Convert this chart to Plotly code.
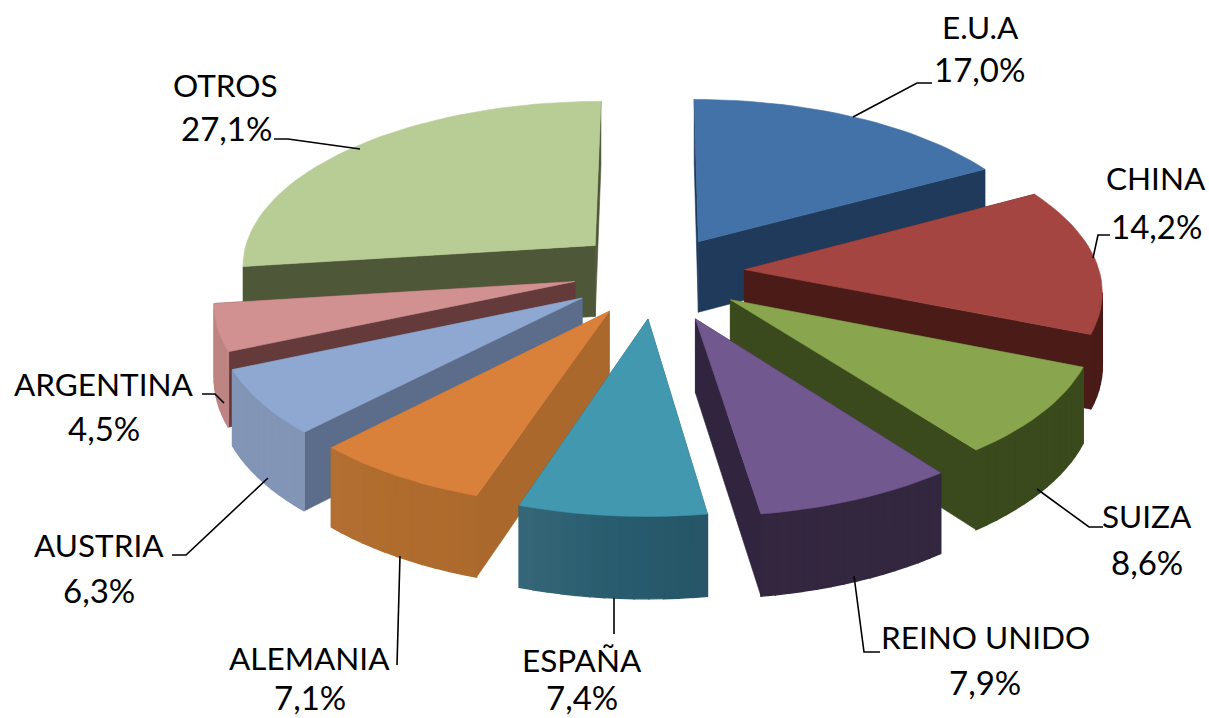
import math
import plotly.graph_objects as go

# ---- data ----
categories = ["E.U.A", "CHINA", "SUIZA", "REINO UNIDO", "ESPAÑA", "ALEMANIA", "AUSTRIA", "ARGENTINA", "OTROS"]
values = [17.0, 14.2, 8.6, 7.9, 7.4, 7.1, 6.3, 4.5, 27.1]
value_labels = ["17,0%", "14,2%", "8,6%", "7,9%", "7,4%", "7,1%", "6,3%", "4,5%", "27,1%"]

# ---- style ----
top_colors = ["#4272a8", "#a54541", "#89a54e", "#71588f", "#4198af", "#d9813a", "#8fa8d1", "#d09190", "#b8cd95"]
side_colors = ["#1f3a5a", "#4a1b17", "#3a4a1c", "#31243f", "#27596a", "#ab682c", "#5c6d8c", "#653a3a", "#4e5738"]
outer_colors = ["#1f3a5a", "#4a1b17", "#3a4a1c", "#33263f", "#285c6e", "#b06c2d", "#8295b6", "#bd8483", "#a3b584"]
outer_shift = [0.0, 0.0, 0.0, 0.0, 0.06, 0.02, 0.0, 0.0, 0.0]
explode = [0.24, 0.25, 0.26, 0.28, 0.26, 0.25, 0.25, 0.235, 0.22]
nudge_x = [0, 0, 0, 0, 0, 0, 0, 0, -3]     # px
nudge_y = [0, -3, -2, 0, 0, 0, -1, -4, -6]  # px

CX, CY = 656.0, 275.0     # projected pie centre, px
SX, SY = 355.0, 165.0     # horizontal / depth scale, px
PERSP = 0.111             # perspective strength
HEIGHT, HP = 72.0, 0.10   # wall height and its perspective
FONT = "Lato"
FS_NAME, FS_VALUE = 31.5, 33


def project(x, y, z=0.0):
    f = 1.0 / (1.0 + PERSP * y)
    sy = CY - SY * y * f
    if z:
        sy += HEIGHT / (1.0 + HP * y)
    return CX + SX * x * f, sy


def shade(hex_c, k):
    r, g, b = [int(hex_c[i:i + 2], 16) for i in (1, 3, 5)]
    if k >= 0:
        r, g, b = [c + (255 - c) * k for c in (r, g, b)]
    else:
        r, g, b = [c * (1 + k) for c in (r, g, b)]
    return f"rgb({r:.0f},{g:.0f},{b:.0f})"


fig = go.Figure()


def poly(pts, color, i, width=0.6):
    xs = [p[0] + nudge_x[i] for p in pts] + [pts[0][0] + nudge_x[i]]
    ys = [p[1] + nudge_y[i] for p in pts] + [pts[0][1] + nudge_y[i]]
    fig.add_trace(go.Scatter(x=xs, y=ys, mode="lines", fill="toself", fillcolor=color,
                             line=dict(color=color, width=width), hoverinfo="skip", showlegend=False))


total = sum(values)
slices = []
cum = 0.0
for i, v in enumerate(values):
    a0 = cum / total * 2 * math.pi
    cum += v
    a1 = cum / total * 2 * math.pi
    slices.append((i, a0, a1))


def draw_slice(i, a0, a1):
    mid = (a0 + a1) / 2
    ox, oy = explode[i] * math.sin(mid), explode[i] * math.cos(mid)
    n = max(6, int((a1 - a0) / math.radians(2)))
    arc = []
    for k in range(n + 1):
        a = a0 + (a1 - a0) * k / n
        arc.append((ox + math.sin(a), oy + math.cos(a)))
    apex = (ox, oy)

    # radial walls, further one first
    walls = sorted([arc[0], arc[-1]], key=lambda p: project(*p)[1])
    for p in walls:
        poly([project(*apex), project(*p), project(*p, 1), project(*apex, 1)], side_colors[i], i)
    # outer wall, front-facing segments only
    for k in range(n):
        p, q = arc[k], arc[k + 1]
        if project(*q)[0] < project(*p)[0]:
            t = k / max(1, n - 1)
            poly([project(*p), project(*q), project(*q, 1), project(*p, 1)],
                 shade(outer_colors[i], outer_shift[i] * (t - 0.5) * 2), i, width=1.4)
    # top face
    poly([project(*apex)] + [project(*p) for p in arc], top_colors[i], i)


# back to front
order = sorted(slices, key=lambda s: -math.cos((s[1] + s[2]) / 2))
for s in order:
    draw_slice(*s)

# ---- leader lines (screen px) ----
leaders = [
    [(853, 117), (917, 83), (932, 83)],
    [(1093, 258), (1098, 235), (1110, 235)],
    [(1037, 489), (1089, 527), (1103, 527)],
    [(854, 576), (864, 652), (880, 652)],
    [(614, 598), (614, 634)],
    [(400, 556), (397, 665)],
    [(268, 478), (186, 555), (172, 555)],
    [(224, 403), (215, 394), (202, 394)],
    [(360, 149), (288, 139), (274, 139)],
]
for pts in leaders:
    fig.add_trace(go.Scatter(x=[p[0] for p in pts], y=[p[1] for p in pts], mode="lines",
                             line=dict(color="black", width=1.6), hoverinfo="skip", showlegend=False))

name_pos = [(980, 27), (1156, 178), (1147, 516), (985, 637), (582, 660), (309, 658), (99, 545), (104, 384), (225, 85)]
value_pos = [(979, 69), (1156, 226), (1147, 562), (985, 682), (582, 697), (310, 697), (99, 590), (104, 428), (226, 128)]
for name, val, np_, vp in zip(categories, value_labels, name_pos, value_pos):
    fig.add_annotation(x=np_[0], y=np_[1], xref="x", yref="y", text=name, showarrow=False,
                       font=dict(family=FONT, size=FS_NAME, color="black"))
    fig.add_annotation(x=vp[0], y=vp[1], xref="x", yref="y", text=val, showarrow=False,
                       font=dict(family=FONT, size=FS_VALUE, color="black"))

fig.update_layout(
    width=1209, height=718, margin=dict(l=0, r=0, t=0, b=0),
    paper_bgcolor="white", plot_bgcolor="white", showlegend=False,
    xaxis=dict(range=[0, 1209], visible=False, fixedrange=True),
    yaxis=dict(range=[718, 0], visible=False, fixedrange=True),
)
fig.write_html("out.html", config={"displayModeBar": False},
               post_script="document.body.style.margin='0';document.body.style.overflow='hidden';")
